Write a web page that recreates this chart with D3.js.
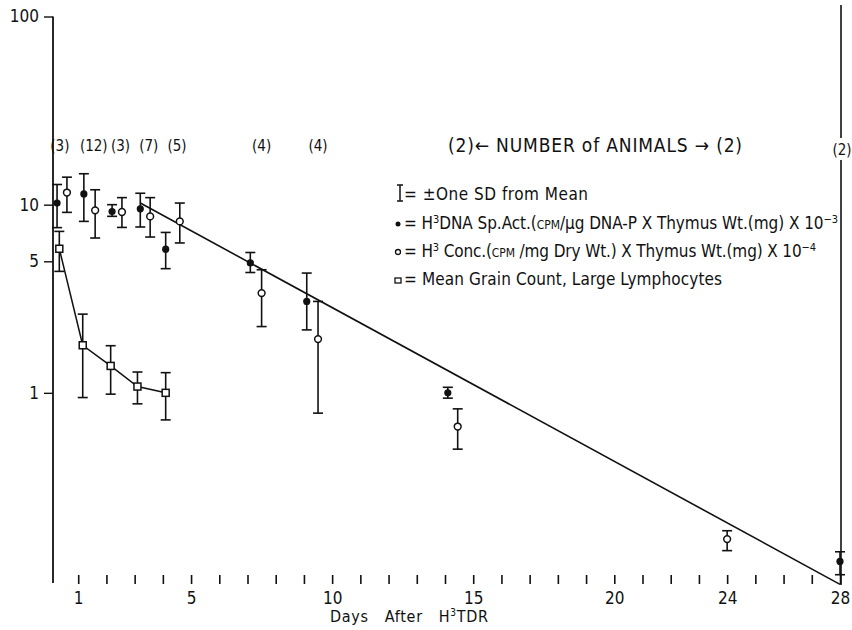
<!DOCTYPE html>
<html>
<head>
<meta charset="utf-8">
<script src="https://cdn.jsdelivr.net/npm/d3@7"></script>
<style>
  body { margin: 0; background: #fff; }
  svg { display: block; }
  text { font-family: "DejaVu Sans Condensed", "Liberation Sans Narrow", "Liberation Sans", sans-serif; fill: #111; }
  .axis text { font-size: 17px; }
</style>
</head>
<body>
<svg id="chart" width="852" height="630"></svg>
<script>
// H3 DNA specific activity x thymus wt (filled circles)
var dnaDays = [0.25, 1.2, 2.2, 3.2, 4.1, 7.1, 9.1, 14.1, 28];
var dnaMean = [10.2, 11.4, 9.2, 9.5, 5.8, 4.9, 3.06, 1.0, 0.127];
var dnaLow  = [7.55, 8.15, 8.67, 7.61, 4.57, 4.36, 2.16, 0.937, 0.108];
var dnaHigh = [12.8, 14.6, 10.0, 11.5, 7.12, 5.57, 4.33, 1.07, 0.143];

// H3 concentration x thymus wt (open circles)
var concDays = [0.6, 1.6, 2.55, 3.55, 4.6, 7.5, 9.5, 14.45, 24];
var concMean = [11.6, 9.33, 9.14, 8.66, 8.15, 3.39, 1.93, 0.662, 0.167];
var concLow  = [9.10, 6.65, 7.57, 6.73, 6.26, 2.25, 0.78, 0.502, 0.145];
var concHigh = [14.0, 12.0, 10.9, 10.9, 10.2, 4.51, 3.06, 0.822, 0.185];

// mean grain count, large lymphocytes (open squares)
var grainDays = [0.33, 1.16, 2.15, 3.1, 4.1];
var grainMean = [5.83, 1.79, 1.39, 1.08, 1.0];
var grainLow  = [4.42, 0.944, 0.984, 0.874, 0.718];
var grainHigh = [7.21, 2.62, 1.78, 1.29, 1.28];

// fitted decay line
var fitDays = [3.2, 28];
var fitValues = [10.2, 0.096];

// number of animals
var countDays = [0.35, 1.55, 2.5, 3.5, 4.5, 7.5, 9.5];
var countLabels = ["(3)", "(12)", "(3)", "(7)", "(5)", "(4)", "(4)"];

var xTicks = d3.range(1, 29);
var xLabels = [1, 5, 10, 15, 20, 24, 28];
var yTicks = [1, 5, 10, 100];

var svg = d3.select("#chart");
var x = d3.scaleLinear().domain([0, 28]).range([50, 840]);
var y = d3.scaleLog().domain([0.1, 100]).range([581, 16.5]);
var ink = "#111";

// x axis: ticks only, no base line
var xAxis = svg.append("g").attr("class", "axis")
  .attr("transform", "translate(0,575)")
  .call(d3.axisBottom(x).tickValues(xTicks).tickSize(9).tickPadding(8)
    .tickFormat(function(d) { return xLabels.indexOf(d) >= 0 ? d : ""; }));
xAxis.select(".domain").remove();
xAxis.selectAll("line").attr("stroke", ink).attr("stroke-width", 1.6);

// y axis
var yAxis = svg.append("g").attr("class", "axis")
  .attr("transform", "translate(53,0)")
  .call(d3.axisLeft(y).tickValues(yTicks).tickSize(9).tickSizeOuter(0).tickPadding(5)
    .tickFormat(d3.format("d")));
yAxis.select(".domain").attr("stroke", ink).attr("stroke-width", 1.8)
  .attr("d", "M0," + y(100) + "V583");
yAxis.selectAll("line").attr("stroke", ink).attr("stroke-width", 1.4);

// right-hand frame line, broken by the day 28 count
svg.append("line").attr("x1", 841).attr("x2", 841).attr("y1", 5).attr("y2", 138)
  .attr("stroke", ink).attr("stroke-width", 1.6);
svg.append("line").attr("x1", 841).attr("x2", 841).attr("y1", 160).attr("y2", 585)
  .attr("stroke", ink).attr("stroke-width", 1.6);

svg.append("text").attr("x", 330).attr("y", 622)
  .attr("textLength", 158).attr("lengthAdjust", "spacing")
  .style("font-size", "16px")
  .html('Days&#160;&#160;&#160;After&#160;&#160;&#160;H<tspan dy="-6" font-size="10">3</tspan><tspan dy="6">TDR</tspan>');

// fitted line and grain count curve
var line = d3.line().x(function(d) { return x(d[0]); }).y(function(d) { return y(d[1]); });
svg.append("path").attr("d", line(d3.zip(fitDays, fitValues)))
  .attr("fill", "none").attr("stroke", ink).attr("stroke-width", 1.6);
svg.append("path").attr("d", line(d3.zip(grainDays, grainMean)))
  .attr("fill", "none").attr("stroke", ink).attr("stroke-width", 1.5);

function errorBars(days, low, high) {
  var g = svg.append("g").attr("stroke", ink).attr("stroke-width", 1.6);
  days.forEach(function(d, i) {
    var cx = x(d);
    g.append("line").attr("x1", cx).attr("x2", cx).attr("y1", y(low[i])).attr("y2", y(high[i]));
    g.append("line").attr("x1", cx - 5).attr("x2", cx + 5).attr("y1", y(low[i])).attr("y2", y(low[i]));
    g.append("line").attr("x1", cx - 5).attr("x2", cx + 5).attr("y1", y(high[i])).attr("y2", y(high[i]));
  });
}
errorBars(dnaDays, dnaLow, dnaHigh);
errorBars(concDays, concLow, concHigh);
errorBars(grainDays, grainLow, grainHigh);

svg.append("g").selectAll("circle").data(d3.zip(dnaDays, dnaMean)).join("circle")
  .attr("cx", function(d) { return x(d[0]); }).attr("cy", function(d) { return y(d[1]); })
  .attr("r", 3.6).attr("fill", ink);

svg.append("g").selectAll("circle").data(d3.zip(concDays, concMean)).join("circle")
  .attr("cx", function(d) { return x(d[0]); }).attr("cy", function(d) { return y(d[1]); })
  .attr("r", 3.4).attr("fill", "#fff").attr("stroke", ink).attr("stroke-width", 1.5);

svg.append("g").selectAll("rect").data(d3.zip(grainDays, grainMean)).join("rect")
  .attr("x", function(d) { return x(d[0]) - 3.5; }).attr("y", function(d) { return y(d[1]) - 3.5; })
  .attr("width", 7).attr("height", 7).attr("fill", "#fff").attr("stroke", ink).attr("stroke-width", 1.5);

// number of animals
svg.append("g").selectAll("text").data(d3.zip(countDays, countLabels)).join("text")
  .attr("x", function(d) { return x(d[0]); }).attr("y", 151).attr("text-anchor", "middle")
  .style("font-size", "15px").text(function(d) { return d[1]; });
svg.append("text").attr("x", 448).attr("y", 152)
  .attr("textLength", 294).attr("lengthAdjust", "spacing")
  .style("font-size", "19px")
  .text("(2)\u2190 NUMBER of  ANIMALS \u2192 (2)");
svg.append("text").attr("x", 842).attr("y", 155).attr("text-anchor", "middle")
  .style("font-size", "15px").text("(2)");

// legend
var lg = svg.append("g");
lg.append("g").attr("stroke", ink).attr("stroke-width", 1.5).call(function(g) {
  g.append("line").attr("x1", 400).attr("x2", 400).attr("y1", 185).attr("y2", 201);
  g.append("line").attr("x1", 397).attr("x2", 403).attr("y1", 185).attr("y2", 185);
  g.append("line").attr("x1", 397).attr("x2", 403).attr("y1", 201).attr("y2", 201);
});
lg.append("text").attr("x", 404).attr("y", 200).style("font-size", "17px")
  .attr("textLength", 184).attr("lengthAdjust", "spacing")
  .text("= \u00b1One  SD  from  Mean");
lg.append("circle").attr("cx", 398).attr("cy", 224).attr("r", 2.5).attr("fill", ink);
lg.append("text").attr("x", 404).attr("y", 229).style("font-size", "17px")
  .attr("textLength", 434).attr("lengthAdjust", "spacing")
  .html('= H<tspan dy="-6" font-size="11">3</tspan><tspan dy="6">DNA Sp.Act.(</tspan><tspan font-size="12">CPM</tspan>/\u03bcg DNA-P X Thymus Wt.(mg)  X 10<tspan dy="-6" font-size="11">\u22123</tspan>');
lg.append("circle").attr("cx", 398).attr("cy", 252).attr("r", 2.5).attr("fill", "#fff")
  .attr("stroke", ink).attr("stroke-width", 1.3);
lg.append("text").attr("x", 404).attr("y", 257).style("font-size", "17px")
  .attr("textLength", 412).attr("lengthAdjust", "spacing")
  .html('= H<tspan dy="-6" font-size="11">3</tspan><tspan dy="6"> Conc.(</tspan><tspan font-size="12">CPM</tspan> /mg Dry Wt.)  X  Thymus Wt.(mg)  X 10<tspan dy="-6" font-size="11">\u22124</tspan>');
lg.append("rect").attr("x", 395).attr("y", 278).attr("width", 6).attr("height", 5).attr("fill", "#fff")
  .attr("stroke", ink).attr("stroke-width", 1.3);
lg.append("text").attr("x", 404).attr("y", 285).style("font-size", "17px")
  .attr("textLength", 318).attr("lengthAdjust", "spacing")
  .text("= Mean  Grain  Count,  Large  Lymphocytes");
</script>
</body>
</html>
